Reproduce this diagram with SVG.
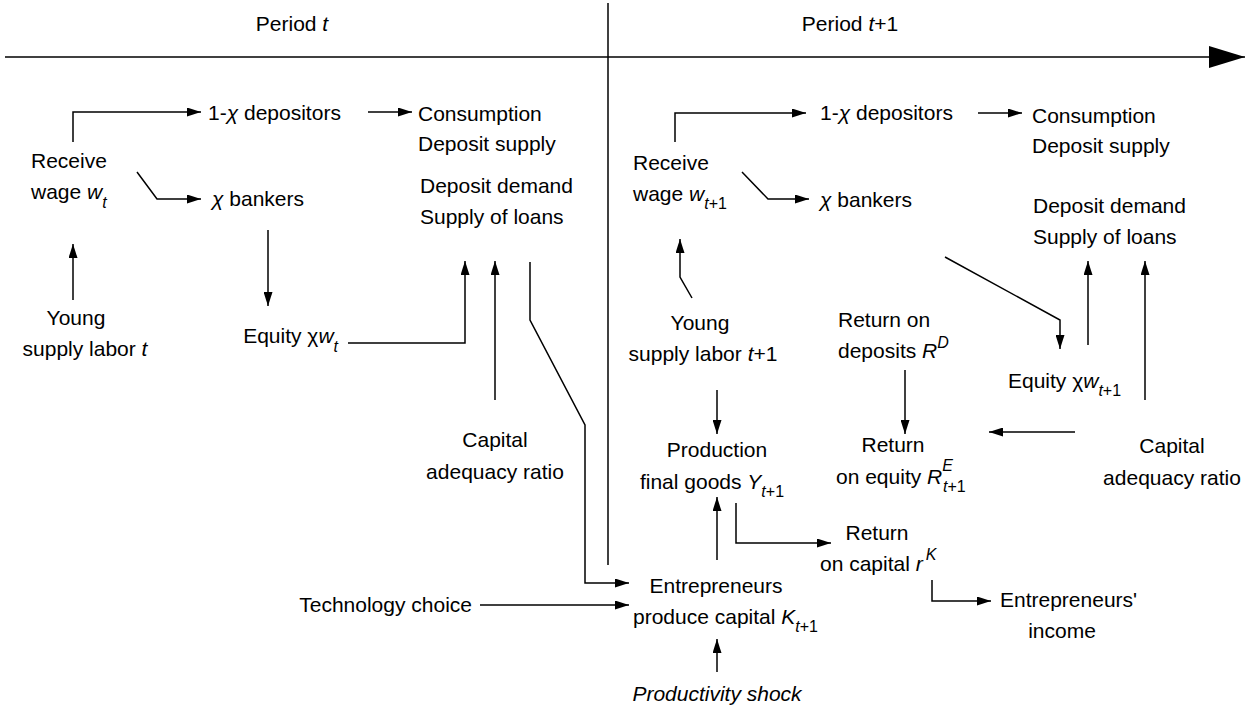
<svg xmlns="http://www.w3.org/2000/svg" width="1247" height="711" viewBox="0 0 1247 711">
<defs>
<marker id="ah" viewBox="0 0 14 9" refX="14" refY="4.5" markerWidth="14" markerHeight="9" markerUnits="userSpaceOnUse" orient="auto">
<path d="M0,0 L14,4.5 L0,9 Z" fill="#000"/>
</marker>
<marker id="big" viewBox="0 0 36 22" refX="36" refY="11" markerWidth="36" markerHeight="22" markerUnits="userSpaceOnUse" orient="auto">
<path d="M0,0 L36,11 L0,22 Z" fill="#000"/>
</marker>
</defs>
<style>
text{font-family:"Liberation Sans",Arial,sans-serif;font-size:21px;fill:#000}
.i{font-style:italic}
.s{font-size:16px}
.m{text-anchor:middle}
.e{text-anchor:end}
.c line,.c polyline{stroke:#000;stroke-width:1.5;fill:none}
.a{marker-end:url(#ah)}
</style>
<rect width="1247" height="711" fill="#fff"/>
<g id="axis">
<line x1="5" y1="57" x2="1245" y2="57" stroke="#000" stroke-width="1.5" marker-end="url(#big)"/>
<line x1="608" y1="3" x2="608" y2="565" stroke="#000" stroke-width="1.5"/>
<text x="292" y="31" class="m">Period <tspan class="i">t</tspan></text>
<text x="850" y="31" class="m">Period <tspan class="i">t</tspan>+1</text>
</g>
<g class="c" id="connectors">
<polyline class="a" points="73,142 73,112 201,112"/>
<line class="a" x1="368" y1="112" x2="412" y2="112"/>
<polyline class="a" points="137,172 157,199 201,199"/>
<line class="a" x1="73" y1="300" x2="73" y2="244"/>
<line class="a" x1="268" y1="230" x2="268" y2="306"/>
<polyline class="a" points="348,343 465,343 465,261"/>
<line class="a" x1="495" y1="400" x2="495" y2="261"/>
<polyline class="a" points="530,262 530,320 585,425 585,583 629,583"/>
<line class="a" x1="480" y1="605" x2="629" y2="605"/>
<polyline class="a" points="675,142 675,113 806,113"/>
<line class="a" x1="978" y1="113" x2="1022" y2="113"/>
<polyline class="a" points="742,172 768,199 809,199"/>
<polyline class="a" points="692,298 680,277 680,239"/>
<line class="a" x1="717" y1="390" x2="717" y2="434"/>
<line class="a" x1="717" y1="560" x2="717" y2="497"/>
<polyline class="a" points="736,503 736,543 831,543"/>
<polyline class="a" points="932,580 932,601 991,601"/>
<line class="a" x1="717" y1="672" x2="717" y2="639"/>
<line class="a" x1="905" y1="370" x2="905" y2="434"/>
<line class="a" x1="1075" y1="432" x2="989" y2="432"/>
<line class="a" x1="1145" y1="400" x2="1145" y2="261"/>
<polyline class="a" points="945,257 1060,320 1060,349"/>
<line class="a" x1="1088" y1="345" x2="1088" y2="261"/>
</g>
<g id="n-dep1"><text x="208" y="120">1-<tspan class="i">χ</tspan> depositors</text></g>
<g id="n-cons1"><text x="418" y="121">Consumption</text><text x="418" y="151">Deposit supply</text></g>
<g id="n-wage1"><text x="31" y="168">Receive</text><text x="31" y="199">wage <tspan class="i">w</tspan><tspan class="i s" dy="9">t</tspan></text></g>
<g id="n-bank1"><text x="212" y="206"><tspan class="i">χ</tspan> bankers</text></g>
<g id="n-young1"><text x="76" y="325" class="m">Young</text><text x="85" y="356" class="m">supply labor <tspan class="i">t</tspan></text></g>
<g id="n-eq1"><text x="338" y="343" class="e">Equity χ<tspan class="i">w</tspan><tspan class="i s" dy="9">t</tspan></text></g>
<g id="n-dd1"><text x="420" y="193">Deposit demand</text><text x="420" y="224">Supply of loans</text></g>
<g id="n-car1"><text x="495" y="447" class="m">Capital</text><text x="495" y="479" class="m">adequacy ratio</text></g>
<g id="n-tech"><text x="472" y="612" class="e">Technology choice</text></g>
<g id="n-dep2"><text x="820" y="120">1-<tspan class="i">χ</tspan> depositors</text></g>
<g id="n-cons2"><text x="1032" y="123">Consumption</text><text x="1032" y="153">Deposit supply</text></g>
<g id="n-wage2"><text x="633" y="170">Receive</text><text x="633" y="201">wage <tspan class="i">w</tspan><tspan class="i s" dy="8">t</tspan><tspan class="s">+1</tspan></text></g>
<g id="n-bank2"><text x="820" y="207"><tspan class="i">χ</tspan> bankers</text></g>
<g id="n-dd2"><text x="1033" y="213">Deposit demand</text><text x="1033" y="244">Supply of loans</text></g>
<g id="n-young2"><text x="700" y="330" class="m">Young</text><text x="703" y="361" class="m">supply labor <tspan class="i">t</tspan>+1</text></g>
<g id="n-rd"><text x="838" y="327">Return on</text><text x="838" y="358">deposits <tspan class="i">R</tspan><tspan class="i s" dy="-10">D</tspan></text></g>
<g id="n-eq2"><text x="1008" y="388">Equity χ<tspan class="i">w</tspan><tspan class="i s" dy="8">t</tspan><tspan class="s">+1</tspan></text></g>
<g id="n-prod"><text x="717" y="457" class="m">Production</text><text x="712" y="489" class="m">final goods  <tspan class="i">Y</tspan><tspan class="i s" dy="8">t</tspan><tspan class="s">+1</tspan></text></g>
<g id="n-re"><text x="893" y="452" class="m">Return</text><text x="836" y="484">on equity <tspan class="i">R</tspan><tspan class="i s" dy="-13">E</tspan><tspan class="i s" dx="-10" dy="21">t</tspan><tspan class="s">+1</tspan></text></g>
<g id="n-car2"><text x="1172" y="453" class="m">Capital</text><text x="1172" y="485" class="m">adequacy ratio</text></g>
<g id="n-rk"><text x="877" y="540" class="m">Return</text><text x="820" y="571">on capital <tspan class="i">r</tspan><tspan class="i s" dx="3" dy="-11">K</tspan></text></g>
<g id="n-ent"><text x="716" y="593" class="m">Entrepreneurs</text><text x="633" y="624">produce capital <tspan class="i">K</tspan><tspan class="i s" dy="8">t</tspan><tspan class="s">+1</tspan></text></g>
<g id="n-inc"><text x="1000" y="607">Entrepreneurs'</text><text x="1062" y="638" class="m">income</text></g>
<g id="n-shock"><text x="717" y="701" class="m i">Productivity shock</text></g>
</svg>
